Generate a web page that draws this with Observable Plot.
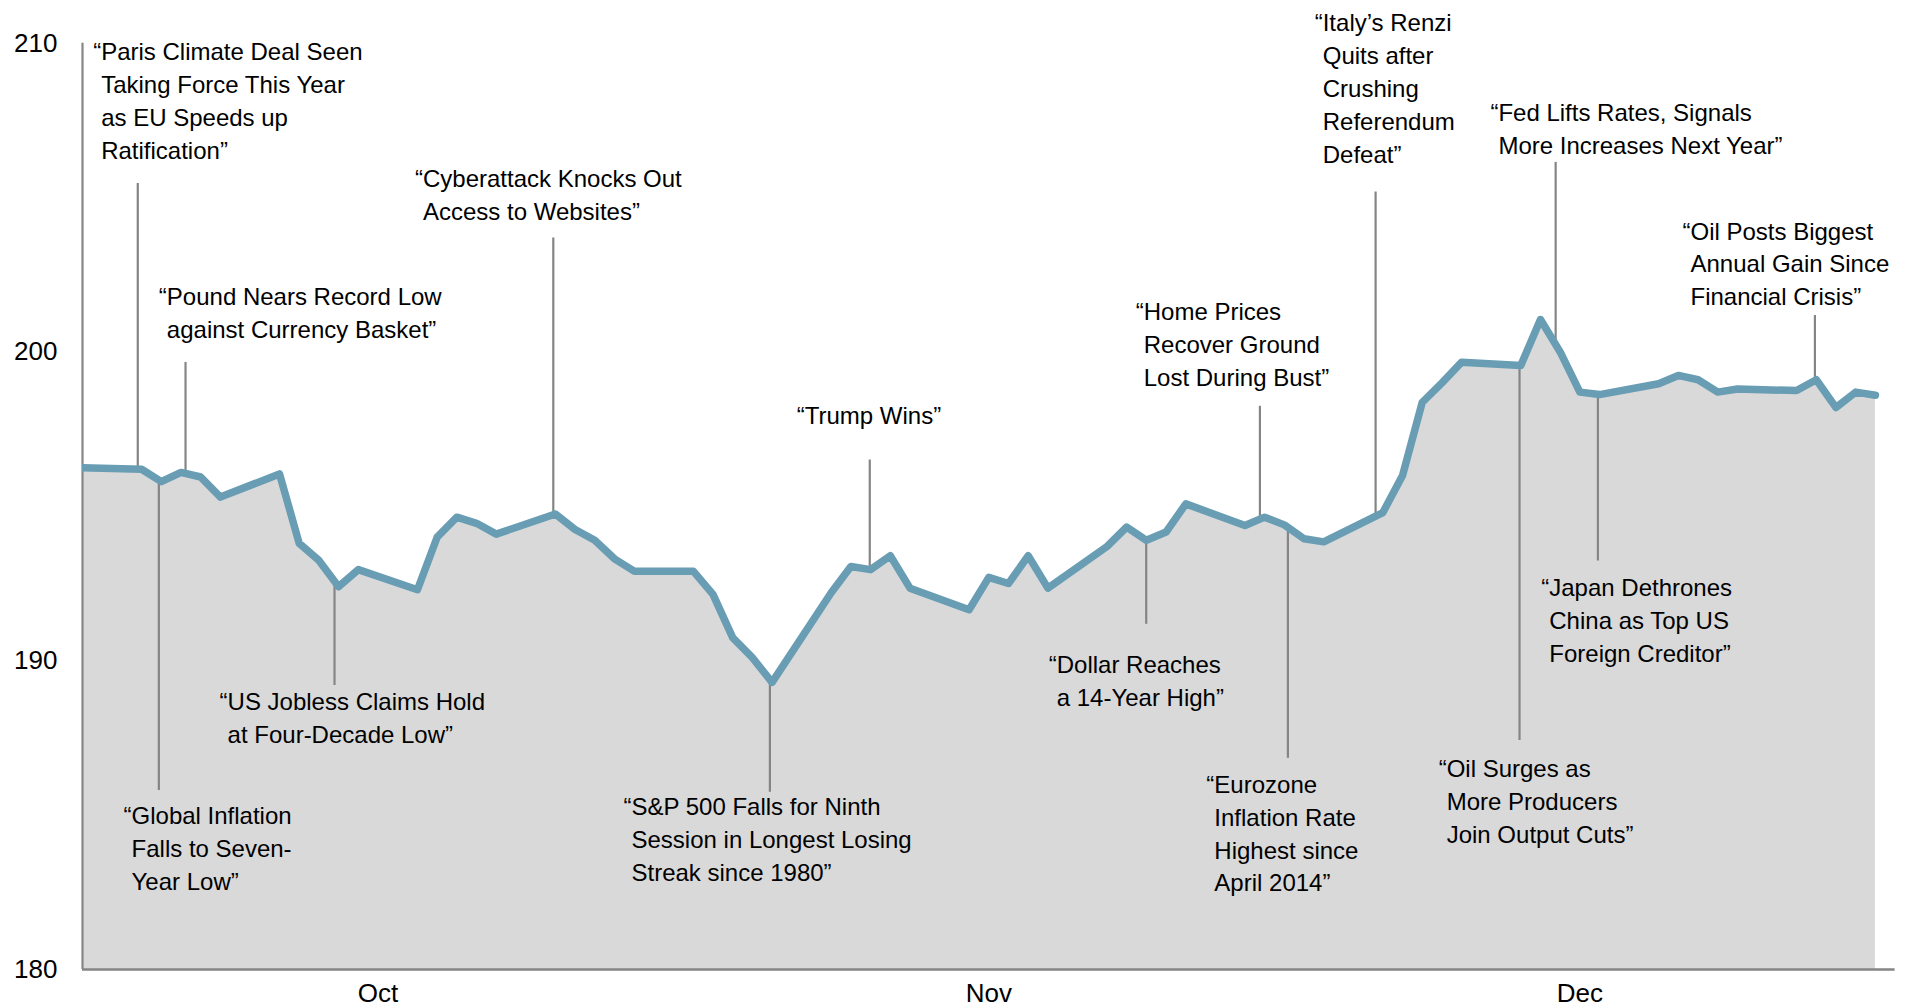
<!DOCTYPE html>
<html>
<head>
<meta charset="utf-8">
<script src="https://cdn.jsdelivr.net/npm/d3@7"></script>
<script src="https://cdn.jsdelivr.net/npm/@observablehq/plot@0.6"></script>
<style>
  html, body { margin: 0; padding: 0; background: #fff; overflow: hidden; }
  #chart svg { display: block; }
</style>
</head>
<body>
<div id="chart"></div>
<script>
// ---- data ----
const dates = [
  "2016-09-30",
  "2016-10-03","2016-10-04","2016-10-05","2016-10-06","2016-10-07",
  "2016-10-10","2016-10-11","2016-10-12","2016-10-13","2016-10-14",
  "2016-10-17","2016-10-18","2016-10-19","2016-10-20","2016-10-21",
  "2016-10-24","2016-10-25","2016-10-26","2016-10-27","2016-10-28",
  "2016-10-31","2016-11-01","2016-11-02","2016-11-03","2016-11-04",
  "2016-11-07","2016-11-08","2016-11-09","2016-11-10","2016-11-11",
  "2016-11-14","2016-11-15","2016-11-16","2016-11-17","2016-11-18",
  "2016-11-21","2016-11-22","2016-11-23","2016-11-24","2016-11-25",
  "2016-11-28","2016-11-29","2016-11-30","2016-12-01","2016-12-02",
  "2016-12-05","2016-12-06","2016-12-07","2016-12-08","2016-12-09",
  "2016-12-12","2016-12-13","2016-12-14","2016-12-15","2016-12-16",
  "2016-12-19","2016-12-20","2016-12-21","2016-12-22","2016-12-23",
  "2016-12-26","2016-12-27","2016-12-28","2016-12-29","2016-12-30"
];
const values = [
  196.25,
  196.2, 195.8, 196.1, 195.95, 195.3,
  196.05, 193.8, 193.25, 192.4, 192.95,
  192.3, 194.0, 194.65, 194.45, 194.1,
  194.75, 194.25, 193.9, 193.3, 192.9,
  192.9, 192.15, 190.75, 190.1, 189.3,
  192.2, 193.05, 192.95, 193.4, 192.35,
  191.65, 192.7, 192.5, 193.4, 192.35,
  193.7, 194.33, 193.9, 194.17, 195.08,
  194.38, 194.65, 194.4, 193.95, 193.85,
  194.8, 196.0, 198.37, 199.0, 199.67,
  199.56, 201.05, 200.0, 198.7, 198.62,
  198.97, 199.24, 199.1, 198.7, 198.8,
  198.75, 199.1, 198.2, 198.7, 198.6
];

const xDomain = ["2016-09-30", "2016-12-31"];
const yDomain = [180, 210];
const yTicks = [180, 190, 200, 210];
const monthTickDates = ["2016-10-15", "2016-11-15", "2016-12-15"];
const monthTickLabels = ["Oct", "Nov", "Dec"];

const headlines = [
  "“Paris Climate Deal Seen\n\u2004Taking Force This Year\n\u2004as EU Speeds up\n\u2004Ratification”",
  "“Global Inflation\n\u2004Falls to Seven-\n\u2004Year Low”",
  "“Pound Nears Record Low\n\u2004against Currency Basket”",
  "“US Jobless Claims Hold\n\u2004at Four-Decade Low”",
  "“Cyberattack Knocks Out\n\u2004Access to Websites”",
  "“S&P 500 Falls for Ninth\n\u2004Session in Longest Losing\n\u2004Streak since 1980”",
  "“Trump Wins”",
  "“Dollar Reaches\n\u2004a 14-Year High”",
  "“Home Prices\n\u2004Recover Ground\n\u2004Lost During Bust”",
  "“Eurozone\n\u2004Inflation Rate\n\u2004Highest since\n\u2004April 2014”",
  "“Italy’s Renzi\n\u2004Quits after\n\u2004Crushing\n\u2004Referendum\n\u2004Defeat”",
  "“Fed Lifts Rates, Signals\n\u2004More Increases Next Year”",
  "“Oil Surges as\n\u2004More Producers\n\u2004Join Output Cuts”",
  "“Japan Dethrones\n\u2004China as Top US\n\u2004Foreign Creditor”",
  "“Oil Posts Biggest\n\u2004Annual Gain Since\n\u2004Financial Crisis”"
];
// where each headline's leader line meets the series, and the leader's far end
const leaderDates = [
  "2016-10-02T19:20","2016-10-03T21:00","2016-10-05T05:30","2016-10-12T19:00","2016-10-23T21:30",
  "2016-11-03T21:20","2016-11-08T23:00","2016-11-22T23:45","2016-11-28T18:15","2016-11-30T04:20",
  "2016-12-04T15:10","2016-12-13T18:30","2016-12-11T22:30","2016-12-15T22:00","2016-12-26T22:20"
];
const leaderEnds = [
  205.46, 185.8, 199.66, 189.2, 203.69,
  185.74, 196.5, 191.18, 198.24, 186.84,
  205.18, 206.14, 187.42, 193.23, 201.18
];
// label anchor (left edge, first line) in data space
const labelDates = [
  "2016-09-30T13:00","2016-10-02T02:00","2016-10-03T21:00","2016-10-06T23:00","2016-10-16T21:00",
  "2016-10-27T11:00","2016-11-05T06:00","2016-11-18T01:00","2016-11-22T11:00","2016-11-26T01:00",
  "2016-12-01T13:00","2016-12-10T11:00","2016-12-07T20:00","2016-12-13T01:00","2016-12-20T05:00"
];
const labelValues = [
  209.72, 184.98, 201.79, 188.69, 205.62,
  185.29, 197.96, 189.87, 201.32, 186.0,
  210.67, 207.75, 186.52, 192.36, 203.92
];

// ---- build ----
const parse = s => new Date(s.length === 10 ? s + "T00:00:00Z" : s + ":00Z");
const series = dates.map((d, i) => ({date: parse(d), value: values[i]}));
const bis = d3.bisector(d => d.date).left;
function valueAt(t) {
  const i = Math.max(1, Math.min(series.length - 1, bis(series, t)));
  const a = series[i - 1], b = series[i];
  const f = (t - a.date) / (b.date - a.date);
  return a.value + (b.value - a.value) * Math.max(0, Math.min(1, f));
}
const notes = headlines.map((t, i) => {
  const date = parse(leaderDates[i]);
  return {
    text: t,
    date,
    v: valueAt(date),
    end: leaderEnds[i],
    tx: parse(labelDates[i]),
    ty: labelValues[i]
  };
});

const chart = Plot.plot({
  width: 1911,
  height: 1008,
  marginLeft: 82,
  marginRight: 16.4,
  marginTop: 42.7,
  marginBottom: 39,
  style: {fontFamily: "'Liberation Sans', Arial, Helvetica, sans-serif", background: "#fff", color: "#000"},
  x: {type: "utc", domain: xDomain.map(parse)},
  y: {domain: yDomain},
  marks: [
    Plot.areaY(series, {x: "date", y1: yDomain[0], y2: "value", fill: "#d9d9d9"}),
    Plot.ruleX(notes, {x: "date", y1: "v", y2: "end", stroke: "#858585", strokeWidth: 2.2}),
    Plot.ruleX([parse(xDomain[0])], {y1: yDomain[0], y2: yDomain[1], stroke: "#858585", strokeWidth: 2.2}),
    Plot.ruleY([yDomain[0]], {stroke: "#858585", strokeWidth: 2.5}),
    Plot.lineY(series, {x: "date", y: "value", stroke: "#689db4", strokeWidth: 7.5, clip: "frame"}),
    Plot.text(notes, {x: "tx", y: "ty", text: "text", textAnchor: "start", lineAnchor: "top",
      lineHeight: 1.37, fontSize: 24, dy: -14.75, fill: "#000"}),
    Plot.axisY({ticks: yTicks, tickSize: 0, tickPadding: 25, fontSize: 26, label: null}),
    Plot.axisX({ticks: monthTickDates.map(parse), tickFormat: (d, i) => monthTickLabels[i],
      tickSize: 0, tickPadding: 14, fontSize: 26, label: null})
  ]
});
document.getElementById("chart").appendChild(chart);
</script>
</body>
</html>
